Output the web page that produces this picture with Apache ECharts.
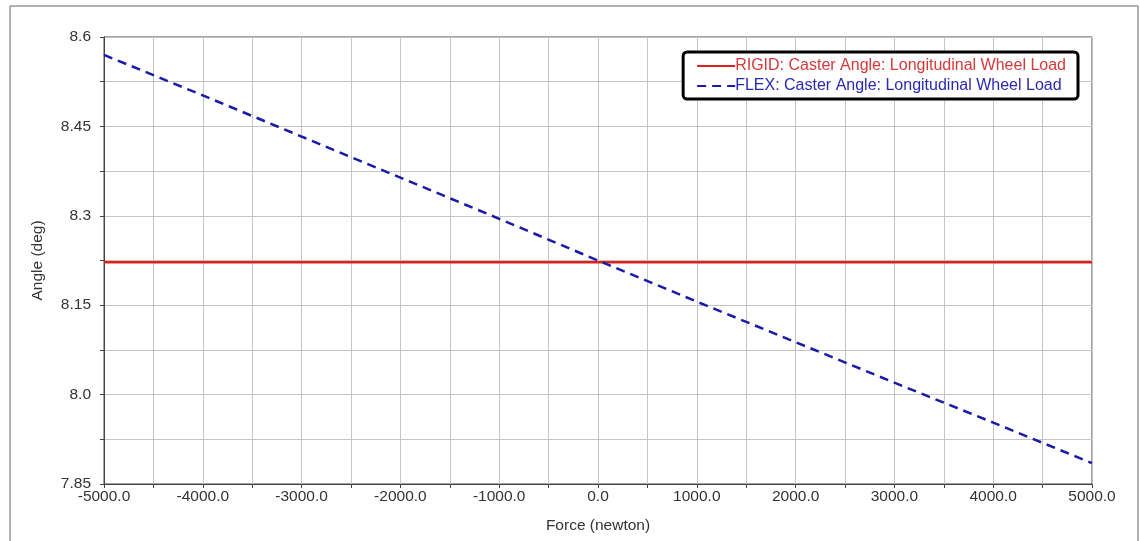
<!DOCTYPE html>
<html>
<head>
<meta charset="utf-8">
<script src="https://cdn.jsdelivr.net/npm/echarts@6/dist/echarts.min.js"></script>
<style>
html,body{margin:0;padding:0;background:#fff;}
#chart{width:1140px;height:541px;}
</style>
</head>
<body>
<div id="chart"></div>
<script>
const forceX = [-5000, -4000, -3000, -2000, -1000, 0, 1000, 2000, 3000, 4000, 5000];
const rigidAngle = [8.222, 8.222, 8.222, 8.222, 8.222, 8.222, 8.222, 8.222, 8.222, 8.222, 8.222];
const flexAngle = [8.570, 8.502, 8.433, 8.364, 8.295, 8.225, 8.156, 8.088, 8.020, 7.953, 7.885];
const seriesNames = ['RIGID: Caster Angle: Longitudinal Wheel Load', 'FLEX: Caster Angle: Longitudinal Wheel Load'];
const yLabels = ['7.85', '8.0', '8.15', '8.3', '8.45', '8.6'];

const chart = echarts.init(document.getElementById('chart'));
const font = 'Liberation Sans, Arial, sans-serif';

function fmtY(v) {
  for (const l of yLabels) { if (Math.abs(parseFloat(l) - v) < 1e-6) return l; }
  return '';
}
function fmtX(v) {
  return (Math.round(v) % 1000 === 0) ? v.toFixed(1) : '';
}

chart.setOption({
  animation: false,
  backgroundColor: '#fff',
  graphic: [{
    type: 'rect', shape: {x: 10, y: 6, width: 1128, height: 560},
    style: {fill: 'none', stroke: '#666', lineWidth: 1}, silent: true, z: -1
  }],
  grid: {left: 104, top: 37, right: 48, bottom: 57, show: true, borderColor: '#444', borderWidth: 1, backgroundColor: 'transparent'},
  legend: {
    right: 62, top: 52, orient: 'vertical', align: 'left',
    itemWidth: 38, itemHeight: 10, itemGap: 4,
    padding: [6, 12, 5, 13],
    borderColor: '#000', borderWidth: 3, borderRadius: 4, backgroundColor: '#fff',
    itemStyle: {opacity: 0},
    textStyle: {fontFamily: font, fontSize: 16, padding: [0,0,0,-5]},
    data: [
      {name: seriesNames[0], textStyle: {color: '#d43a3a'}},
      {name: seriesNames[1], textStyle: {color: '#2a2ab0'}}
    ]
  },
  xAxis: {
    type: 'value', min: -5000, max: 5000, interval: 500,
    name: 'Force (newton)', nameLocation: 'middle', nameGap: 34,
    nameTextStyle: {fontFamily: font, fontSize: 15.5, color: '#333'},
    axisLine: {show: true, onZero: false, lineStyle: {color: '#444', width: 1}},
    axisTick: {show: true, length: 4, lineStyle: {color: '#444'}},
    axisLabel: {formatter: fmtX, fontFamily: font, fontSize: 15.5, color: '#333', margin: 5, showMinLabel: true, showMaxLabel: true},
    splitLine: {show: true, lineStyle: {color: '#c4c4c4', width: 1}}
  },
  yAxis: {
    type: 'value', min: 7.85, max: 8.6, interval: 0.075,
    name: 'Angle (deg)', nameLocation: 'middle', nameGap: 58, nameRotate: 90,
    nameTextStyle: {fontFamily: font, fontSize: 15.5, color: '#333'},
    axisLine: {show: true, onZero: false, lineStyle: {color: '#444', width: 1}},
    axisTick: {show: true, length: 4, lineStyle: {color: '#444'}},
    axisLabel: {formatter: fmtY, fontFamily: font, fontSize: 15.5, color: '#333', margin: 13, showMinLabel: true, showMaxLabel: true},
    splitLine: {show: true, lineStyle: {color: '#c4c4c4', width: 1}}
  },
  series: [
    {
      name: seriesNames[0], type: 'line', showSymbol: false, symbol: 'none',
      data: forceX.map((x, i) => [x, rigidAngle[i]]),
      lineStyle: {color: '#e01f1f', width: 2.5}, itemStyle: {color: '#e01f1f'}, z: 2
    },
    {
      name: seriesNames[1], type: 'line', showSymbol: false, symbol: 'none',
      data: forceX.map((x, i) => [x, flexAngle[i]]),
      lineStyle: {color: '#1a1aa8', width: 2.5, type: [9, 6]}, itemStyle: {color: '#1a1aa8'}, z: 3
    }
  ]
});
</script>
</body>
</html>
